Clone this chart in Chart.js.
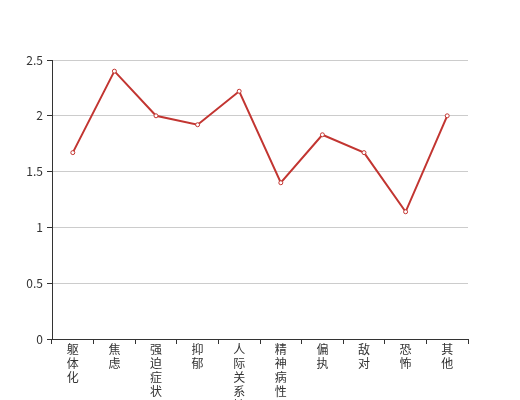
<!DOCTYPE html>
<html>
<head>
<meta charset="utf-8">
<script src="https://cdn.jsdelivr.net/npm/chart.js@4/dist/chart.umd.min.js"></script>
<style>
  html, body { margin: 0; padding: 0; background: #fff; }
  #wrap { width: 520px; height: 400px; }
</style>
</head>
<body>
<div id="wrap"><canvas id="chart"></canvas></div>
<script>
  "use strict";

  const categories = ['躯体化', '焦虑', '强迫症状', '抑郁', '人际关系敏感', '精神病性', '偏执', '敌对', '恐怖', '其他'];
  const scores = [1.67, 2.40, 2.00, 1.92, 2.22, 1.40, 1.83, 1.67, 1.14, 2.00];
  const yTicks = [0, 0.5, 1, 1.5, 2, 2.5];

  // one character per line, like the vertical axis labels
  const labels = categories.map(c => c.split(''));

  Chart.defaults.font.family = "'Noto Sans CJK SC', sans-serif";
  Chart.defaults.font.size = 12;
  Chart.defaults.color = '#333';

  new Chart(document.getElementById('chart'), {
    type: 'line',
    data: {
      labels: labels,
      datasets: [{
        data: scores,
        borderColor: '#c23531',
        borderWidth: 2,
        backgroundColor: '#fff',
        pointBackgroundColor: '#fff',
        pointBorderColor: '#c23531',
        pointBorderWidth: 1,
        pointRadius: 2,
        tension: 0,
        fill: false
      }]
    },
    options: {
      responsive: true,
      maintainAspectRatio: false,
      animation: false,
      layout: { padding: { top: 60, right: 52, left: 0, bottom: 0 } },
      plugins: {
        legend: { display: false },
        tooltip: { enabled: false }
      },
      scales: {
        x: {
          offset: true,
          afterFit: s => { s.height = 61; },
          border: { color: '#333', width: 1 },
          grid: {
            offset: true,
            drawOnChartArea: false,
            tickLength: 5,
            tickColor: '#333'
          },
          ticks: {
            autoSkip: false,
            maxRotation: 0,
            padding: -2,
            color: '#333',
            font: { size: 12, lineHeight: 1.17 }
          }
        },
        y: {
          min: 0,
          max: 2.5,
          afterFit: s => { s.width = 52; },
          afterBuildTicks: s => { s.ticks = yTicks.map(v => ({ value: v })); },
          border: { color: '#333', width: 1 },
          grid: {
            color: '#ccc',
            tickLength: 5,
            tickColor: '#333'
          },
          ticks: {
            padding: 4,
            color: '#333',
            font: { size: 12 },
            callback: v => String(v)
          }
        }
      }
    }
  });
</script>
</body>
</html>
